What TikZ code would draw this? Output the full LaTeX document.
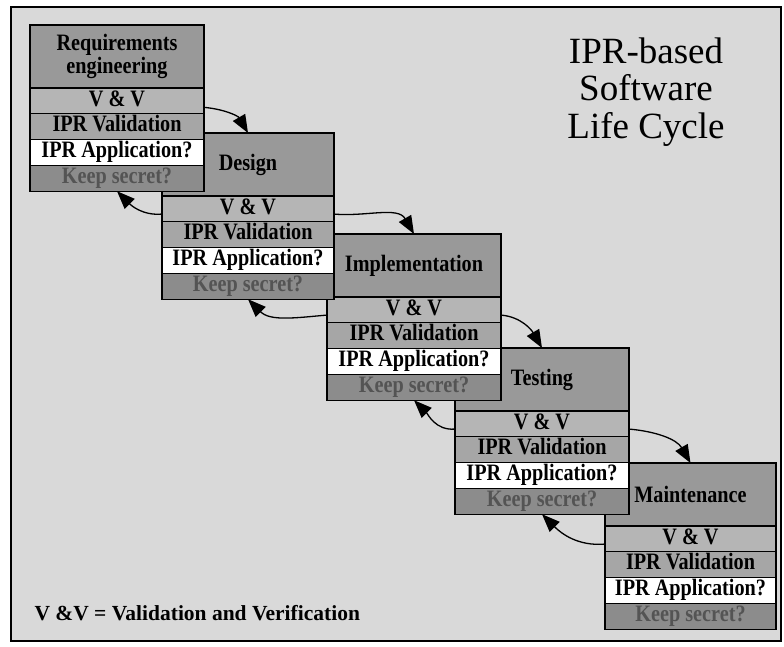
\documentclass[tikz,border=0pt]{standalone}
\usepackage{fontspec}
\setmainfont{Liberation Serif}
\newfontfamily\phasefont[FakeStretch=0.86]{Liberation Serif}
\usetikzlibrary{arrows.meta,calc}

\definecolor{paper}{gray}{0.85}
\definecolor{titlefill}{gray}{0.60}
\definecolor{vvfill}{gray}{0.71}
\definecolor{valfill}{gray}{0.65}
\definecolor{secretfill}{gray}{0.55}
\definecolor{secrettext}{gray}{0.33}

\tikzset{
  cell/.style={draw=black, line width=1.3pt, inner sep=0pt, outer sep=0pt,
    anchor=north west, align=center,
    font=\phasefont\fontsize{23.5}{23}\selectfont\bfseries},
  rowcell/.style={cell, minimum height=25.8pt, text height=15.5pt, text depth=5pt},
  titlecell/.style={cell, fill=titlefill, minimum height=63pt},
  vvcell/.style={rowcell, fill=vvfill},
  valcell/.style={rowcell, fill=valfill},
  appcell/.style={rowcell, fill=white},
  secretcell/.style={rowcell, fill=secretfill, text=secrettext},
  flow/.style={line width=1.3pt, draw=black,
    -{Triangle[length=18pt,width=14pt]}},
  heading/.style={align=center, font=\fontsize{37}{37.5}\selectfont},
  note/.style={anchor=west, font=\fontsize{21.5}{24}\selectfont\bfseries}
}

% one phase: #1 name, #2 left, #3 top, #4 right, #5 phase title
\newcommand\phasebox[5]{%
  \pgfmathsetmacro\phasewidth{#4-#2}
  \node[titlecell, minimum width=\phasewidth pt] (#1t) at (#2,#3) {#5};
  \node[vvcell, minimum width=\phasewidth pt] (#1a) at (#1t.south west) {V \& V};
  \node[valcell, minimum width=\phasewidth pt] (#1b) at (#1a.south west) {IPR Validation};
  \node[appcell, minimum width=\phasewidth pt] (#1c) at (#1b.south west) {IPR Application?};
  \node[secretcell, minimum width=\phasewidth pt] (#1d) at (#1c.south west) {Keep secret?};
}

\begin{document}
\begin{tikzpicture}[x=1pt, y=-1pt]
  \useasboundingbox (0,0) rectangle (784,646);
  \fill[white] (0,0) rectangle (784,646);
  \draw[line width=2.5pt, fill=paper] (11,7) rectangle (781,641);

  % heading
  \node[heading] (head) at (646,92) {IPR-based\\Software\\Life Cycle};

  % phases, later ones first so each earlier phase lies on top
  \phasebox{p5}{605}{463}{776}{Maintenance}
  \phasebox{p4}{455}{348}{629}{Testing}
  \phasebox{p3}{327}{234}{501}{Implementation}
  \phasebox{p2}{162}{133}{334}{Design}
  \phasebox{p1}{30}{25}{204}{Requirements\\engineering}

  % forward steps
  \draw[flow] ($(p1a.south east)!0.25!(p1a.north east)$) to[out=-5, in=120] (p2t.north);
  \draw[flow] ($(p2a.south east)!0.3!(p2a.north east)$) to[out=-5, in=120] (p3t.north);
  \draw[flow] ($(p3a.south east)!0.3!(p3a.north east)$) to[out=-5, in=120] (p4t.north);
  \draw[flow] ($(p4a.south east)!0.3!(p4a.north east)$) to[out=-5, in=120] (p5t.north);

  % feedback steps
  \draw[flow] ($(p2a.south west)!0.3!(p2a.north west)$) to[out=185, in=-45] (p1d.south);
  \draw[flow] ($(p3a.south west)!0.3!(p3a.north west)$) to[out=185, in=-45] (p2d.south);
  \draw[flow] ($(p4a.south west)!0.3!(p4a.north west)$) to[out=185, in=-45] (p3d.south);
  \draw[flow] ($(p5a.south west)!0.3!(p5a.north west)$) to[out=185, in=-45] (p4d.south);

  % legend
  \node[note] (legend) at (31,613) {V \&V = Validation and Verification};
\end{tikzpicture}
\end{document}
